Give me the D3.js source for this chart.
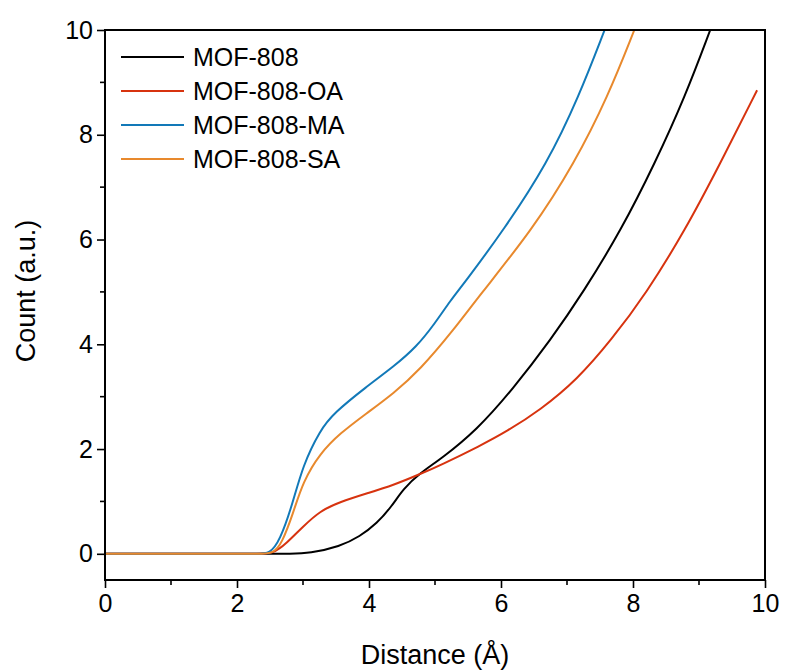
<!DOCTYPE html>
<html>
<head>
<meta charset="utf-8">
<script src="https://cdn.jsdelivr.net/npm/d3@7"></script>
<style>
  body { margin: 0; background: #fff; }
  svg { display: block; font-family: "Liberation Sans", Arial, sans-serif; }
</style>
</head>
<body>
<svg width="785" height="671"></svg>
<script>
// pore size distribution style curves
var seriesNames = ["MOF-808", "MOF-808-OA", "MOF-808-MA", "MOF-808-SA"];
var seriesColors = ["#000000", "#d7330f", "#1279b8", "#e8892d"];

var mofX = [0, 1, 2, 2.3, 2.5, 2.8, 3.1, 3.56, 3.86, 4.12, 4.34, 4.52, 4.77, 5.1, 5.63, 6.17, 6.75, 7.25, 7.82, 8.33, 8.79, 9.17];
var mofY = [0, 0, 0, 0, 0, 0, 0.01, 0.14, 0.33, 0.58, 0.9, 1.24, 1.54, 1.82, 2.36, 3.13, 4.08, 5.0, 6.18, 7.45, 8.73, 10.0];

var oaX  = [0, 1, 2, 2.3, 2.55, 2.75, 3.0, 3.26, 3.56, 3.96, 4.37, 4.77, 5.08, 5.68, 6.08, 6.6, 7.15, 7.67, 8.2, 8.79, 9.3, 9.88];
var oaY  = [0, 0, 0, 0, 0, 0.2, 0.52, 0.82, 0.99, 1.15, 1.31, 1.52, 1.69, 2.06, 2.33, 2.75, 3.32, 4.08, 4.97, 6.18, 7.4, 8.85];

var maX  = [0, 1, 2, 2.3, 2.5, 2.65, 2.83, 3.0, 3.26, 3.46, 3.96, 4.37, 4.72, 5.0, 5.23, 5.45, 6.04, 6.7, 7.18, 7.57];
var maY  = [0, 0, 0, 0, 0, 0.26, 0.9, 1.7, 2.36, 2.68, 3.19, 3.57, 3.95, 4.4, 4.83, 5.18, 6.18, 7.45, 8.73, 10.0];

var saX  = [0, 1, 2, 2.3, 2.55, 2.68, 2.85, 3.0, 3.26, 3.56, 3.96, 4.37, 4.77, 5.28, 5.66, 6.47, 7.11, 7.62, 8.02];
var saY  = [0, 0, 0, 0, 0, 0.2, 0.77, 1.38, 1.92, 2.3, 2.68, 3.06, 3.51, 4.27, 4.91, 6.18, 7.45, 8.73, 10.0];

var xTicks = [0, 2, 4, 6, 8, 10];
var yTicks = [0, 2, 4, 6, 8, 10];
var xLabel = "Distance (Å)";
var yLabel = "Count (a.u.)";

var svg = d3.select("svg");
var pLeft = 105, pRight = 765, pTop = 30, pBottom = 580;

var x = d3.scaleLinear().domain([0, 10]).range([pLeft, pRight]);
var y = d3.scaleLinear().domain([-0.5, 10]).range([pBottom, pTop]);

var series = [
  {name: seriesNames[0], color: seriesColors[0], xs: mofX, ys: mofY},
  {name: seriesNames[1], color: seriesColors[1], xs: oaX, ys: oaY},
  {name: seriesNames[2], color: seriesColors[2], xs: maX, ys: maY},
  {name: seriesNames[3], color: seriesColors[3], xs: saX, ys: saY}
];

svg.append("clipPath").attr("id", "plotclip")
  .append("rect")
  .attr("x", pLeft).attr("y", pTop)
  .attr("width", pRight - pLeft).attr("height", pBottom - pTop);

var line = d3.line()
  .x(function(d) { return x(d[0]); })
  .y(function(d) { return y(d[1]); })
  .curve(d3.curveBasis);

svg.append("g").attr("clip-path", "url(#plotclip)")
  .selectAll("path")
  .data(series)
  .enter().append("path")
    .attr("fill", "none")
    .attr("stroke", function(d) { return d.color; })
    .attr("stroke-width", 2)
    .attr("stroke-linejoin", "round")
    .attr("d", function(d) { return line(d3.zip(d.xs, d.ys)); });

// axes, ticks point outward, odd minor ticks
var xAxis = d3.axisBottom(x).tickValues(xTicks).tickSize(8).tickPadding(4).tickFormat(d3.format("d"));
var yAxis = d3.axisLeft(y).tickValues(yTicks).tickSize(8).tickPadding(4).tickFormat(d3.format("d"));

var gx = svg.append("g").attr("transform", "translate(0," + pBottom + ")").call(xAxis);
var gy = svg.append("g").attr("transform", "translate(" + pLeft + ",0)").call(yAxis);

[gx, gy].forEach(function(g) {
  g.select(".domain").remove();
  g.selectAll(".tick line").attr("stroke", "#000").attr("stroke-width", 1.6);
  g.selectAll(".tick text").attr("fill", "#000").style("font-size", "25px");
});
gx.selectAll(".tick text").attr("dy", "0.78em");

var minor = svg.append("g").attr("stroke", "#000").attr("stroke-width", 1.6);
d3.range(1, 10, 2).forEach(function(v) {
  minor.append("line").attr("x1", x(v)).attr("x2", x(v)).attr("y1", pBottom).attr("y2", pBottom + 5);
  minor.append("line").attr("x1", pLeft).attr("x2", pLeft - 5).attr("y1", y(v)).attr("y2", y(v));
});

svg.append("rect")
  .attr("x", pLeft).attr("y", pTop)
  .attr("width", pRight - pLeft).attr("height", pBottom - pTop)
  .attr("fill", "none").attr("stroke", "#000").attr("stroke-width", 2);

svg.append("text")
  .attr("x", (pLeft + pRight) / 2).attr("y", 664)
  .attr("text-anchor", "middle")
  .style("font-size", "27px")
  .text(xLabel);

svg.append("text")
  .attr("transform", "translate(35," + 291 + ") rotate(-90)")
  .attr("text-anchor", "middle")
  .style("font-size", "27px")
  .text(yLabel);

// legend
var legend = svg.append("g");
series.forEach(function(s, i) {
  var ly = 57 + i * 34;
  legend.append("line")
    .attr("x1", 121).attr("x2", 184).attr("y1", ly).attr("y2", ly)
    .attr("stroke", s.color).attr("stroke-width", 2);
  legend.append("text")
    .attr("x", 193).attr("y", ly).attr("dy", "0.36em")
    .style("font-size", "25px")
    .text(s.name);
});
</script>
</body>
</html>
